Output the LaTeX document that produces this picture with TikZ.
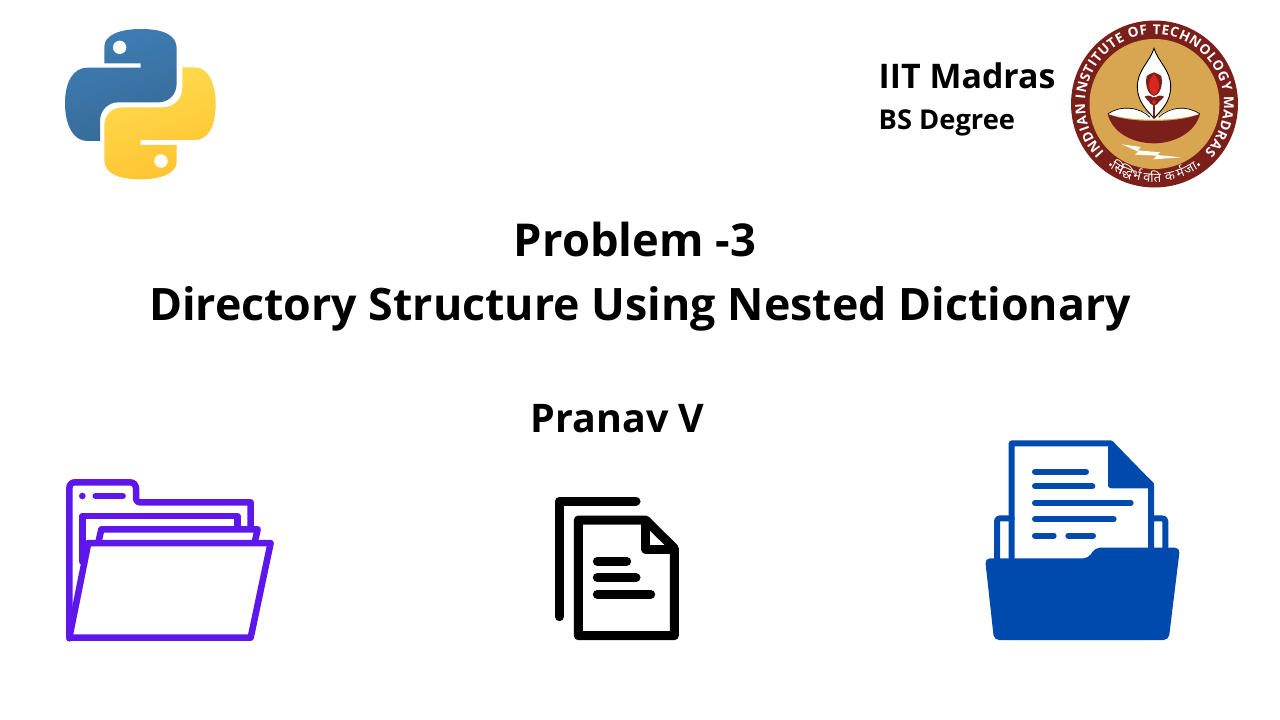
\documentclass[tikz,border=0pt]{standalone}
\usepackage{fontspec}
\setmainfont{Open Sans}[BoldFont={Open Sans Bold}]
\newfontfamily\devafont[Script=Devanagari]{Noto Sans}
\newfontfamily\ringfont{Open Sans}[BoldFont={Open Sans Bold}]
\usetikzlibrary{decorations.text}
\definecolor{pyblueA}{HTML}{3F7DB5}
\definecolor{pyblueB}{HTML}{366A96}
\definecolor{pyyelA}{HTML}{FFDC4F}
\definecolor{pyyelB}{HTML}{FFC331}
\definecolor{iitmaroon}{HTML}{7B1F1A}
\definecolor{iitgold}{HTML}{D8A650}
\definecolor{lotusred}{HTML}{D9261F}
\definecolor{folderpurple}{HTML}{5E17EB}
\definecolor{folderblue}{HTML}{004AAD}
\tikzset{
  title/.style={font=\bfseries\fontsize{44.7}{50}\selectfont,anchor=base,inner sep=0pt,text=black},
  sidehead/.style={font=\bfseries\fontsize{33.9}{38}\selectfont,anchor=base west,inner sep=0pt,text=black},
  sidesub/.style={font=\bfseries\fontsize{27.3}{30}\selectfont,anchor=base west,inner sep=0pt,text=black},
  purpleline/.style={draw=folderpurple,line width=6.5pt,line join=round,line cap=round},
  blackline/.style={draw=black,line width=9pt,line join=round,line cap=round},
  blueline/.style={draw=folderblue,line width=6pt,line join=round,line cap=round},
  deva/.style={font=\devafont\fontsize{13}{13}\selectfont,text=white,inner sep=0pt,anchor=base},
}
\begin{document}
\begin{tikzpicture}[x=1pt,y=1pt]
\useasboundingbox[fill=white] (0,-720) rectangle (1280,0);

% Python logo
\begin{scope}[shift={(50,-15)},xscale=1/3,yscale=-1/3]
  \shade[left color=pyblueA,right color=pyblueB,shading angle=20]
    (163,145) -- (163,95) .. controls (163,60) and (210,42) .. (272,42)
    .. controls (340,42) and (380,60) .. (380,100) -- (380,205)
    .. controls (380,240) and (355,262) .. (325,262) -- (205,262)
    .. controls (175,262) and (150,285) .. (150,318) -- (150,378) -- (112,378)
    .. controls (70,378) and (45,330) .. (45,265)
    .. controls (45,200) and (70,158) .. (112,158) -- (272,158) -- (272,145) -- cycle;
  \fill[white] (209,97) circle (20);
  \shade[left color=pyyelA,right color=pyyelB,shading angle=20]
    (380,390) -- (380,440) .. controls (380,475) and (333,493) .. (272,493)
    .. controls (205,493) and (163,475) .. (163,435) -- (163,330)
    .. controls (163,298) and (188,277) .. (218,277) -- (340,277)
    .. controls (370,277) and (397,252) .. (397,220) -- (397,157) -- (435,157)
    .. controls (475,157) and (497,205) .. (497,268)
    .. controls (497,332) and (475,375) .. (435,375) -- (272,375) -- (272,390) -- cycle;
  \fill[white] (333,438) circle (20);
\end{scope}

% Heading texts
\node[sidehead] (iitname) at (878.5,-88) {IIT Madras};
\node[sidesub] (bs) at (878.5,-129) {BS Degree};
\node[title,font=\bfseries\fontsize{45.3}{50}\selectfont] (prob) at (635,-256) {Problem -3};
\node[title] (dirs) at (640,-320) {Directory Structure Using Nested Dictionary};
\node[title,font=\bfseries\fontsize{39.4}{42}\selectfont] (author) at (617.5,-432) {Pranav V};

% IIT Madras emblem
\begin{scope}[shift={(1154.5,-104)}]
  \fill[iitmaroon] (0,0) circle (83.5);
  \fill[iitgold] (0,0) circle (65);
  \path[postaction={decorate,decoration={text along path,text align=fit to path,
      text={|\ringfont\bfseries\fontsize{13.6}{15}\selectfont\color{white}|INDIAN INSTITUTE OF TECHNOLOGY MADRAS}}}]
      (224:69.5) arc (224:-44:69.5);
  \fill[white] (234:75) circle (1.6);
  \fill[white] (-54:75) circle (1.6);
  \foreach \n/\a/\t in {a/240/सि,b/247.5/द्धि,c/256/र्भ,d/264/व,e/271/ति,f/282/क,g/290.5/र्म,h/299/जा}{
    \pgfmathsetmacro\rot{\a+90}
    \node[deva,rotate=\rot] (dv\n) at (\a:78) {\t};
  }
\end{scope}
\begin{scope}[shift={(1100,-40)},xscale=1/3,yscale=-1/3]
  % bowl
  \fill[white] (23,222) .. controls (60,195) and (120,200) .. (165,235)
     .. controls (205,200) and (260,195) .. (300,222) .. controls (220,245) and (100,245) .. cycle;
  \fill[iitmaroon] (23,222) .. controls (90,250) and (230,250) .. (300,222)
     .. controls (285,280) and (220,310) .. (162,310) .. controls (100,310) and (38,280) .. cycle;
  \draw[black,line width=0.7pt] (23,222) .. controls (60,195) and (120,200) .. (150,232);
  \draw[black,line width=0.7pt] (300,222) .. controls (260,195) and (210,200) .. (176,232);
  % flame
  \fill[white,draw=black,line width=0.9pt] (162,25)
     .. controls (150,65) and (112,90) .. (112,140)
     .. controls (112,185) and (140,210) .. (162,235)
     .. controls (185,210) and (212,185) .. (212,140)
     .. controls (212,90) and (174,65) .. (162,25) -- cycle;
  % lotus
  \draw[iitmaroon,line width=1.3pt] (162,170) -- (162,232);
  \fill[iitmaroon] (140,108) -- (150,102) -- (162,97) -- (174,102) -- (184,108)
     .. controls (190,140) and (178,165) .. (162,168)
     .. controls (146,165) and (134,140) .. cycle;
  \fill[lotusred] (162,101) .. controls (182,122) and (182,152) .. (162,166)
     .. controls (142,152) and (142,122) .. cycle;
  \fill[iitmaroon] (134,170) .. controls (145,163) and (155,168) .. (162,176)
     .. controls (170,168) and (180,163) .. (192,170)
     .. controls (184,182) and (174,185) .. (172,192)
     .. controls (166,198) and (158,198) .. (152,192)
     .. controls (150,185) and (142,182) .. cycle;
  \fill[lotusred] (162,178) .. controls (168,182) and (170,188) .. (162,193)
     .. controls (154,188) and (156,182) .. cycle;
  % lightning
  \fill[white] (65,313) -- (122,321) -- (113,331) -- (180,337) -- (172,345) -- (243,352)
     -- (160,358) -- (170,347) -- (105,344) -- (115,335) -- cycle;
\end{scope}

% Purple open folder
\begin{scope}[shift={(50,-465)},xscale=1/3,yscale=-1/3]
  \draw[purpleline] (58,520) -- (58,70) .. controls (58,58) and (65,52) .. (75,52) -- (240,52)
     .. controls (252,52) and (258,60) .. (258,72) -- (258,100) .. controls (258,108) and (262,112) .. (270,112) -- (602,112) -- (602,190);
  \draw[purpleline] (97,290) -- (97,153) -- (562,153) -- (562,190);
  \draw[purpleline] (146,228) -- (154,193) -- (623,193) -- (615,228);
  \draw[purpleline] (58,518) -- (115,234) -- (662,234) -- (602,518) -- cycle;
  \fill[folderpurple] (97,93) circle (10);
  \draw[purpleline] (137,93) -- (218,93);
\end{scope}

% Black documents
\begin{scope}[shift={(530,-390)},xscale=1/3,yscale=-1/3]
  \draw[blackline] (88,680) -- (88,333) -- (318,333);
  \draw[blackline] (145,390) -- (145,737) -- (433,737) -- (433,475) -- (347,390) -- cycle;
  \draw[blackline] (347,395) -- (347,477) -- (430,477);
  \draw[blackline] (202,514) -- (290,514);
  \draw[blackline] (202,563) -- (318,563);
  \draw[blackline] (202,613) -- (362,613);
\end{scope}

% Blue folder with document
\begin{scope}[shift={(970,-430)},xscale=1/3,yscale=-1/3]
  \draw[blueline] (125,395) -- (125,40) -- (422,40) -- (543,165) -- (543,370);
  \fill[folderblue] (414,40) -- (424,35) -- (552,160) -- (543,175) -- (424,175) .. controls (416,175) and (414,170) .. (414,165) -- cycle;
  \draw[blueline] (125,265) -- (90,265) .. controls (84,265) and (81,268) .. (81,275) -- (81,395);
  \draw[blueline] (543,265) -- (575,265) .. controls (583,265) and (586,268) .. (586,275) -- (586,370);
  \foreach \xa/\xb/\yy in {195/348/125,195/367/169,195/482/219,195/431/268,195/251/317,295/369/317}{
    \draw[blueline] (\xa,\yy) -- (\xb,\yy);
  }
  \fill[folderblue,rounded corners=5pt] (45,385) -- (355,385) -- (375,353) -- (630,353) -- (596,630) -- (72,630) -- cycle;
\end{scope}
\end{tikzpicture}
\end{document}
